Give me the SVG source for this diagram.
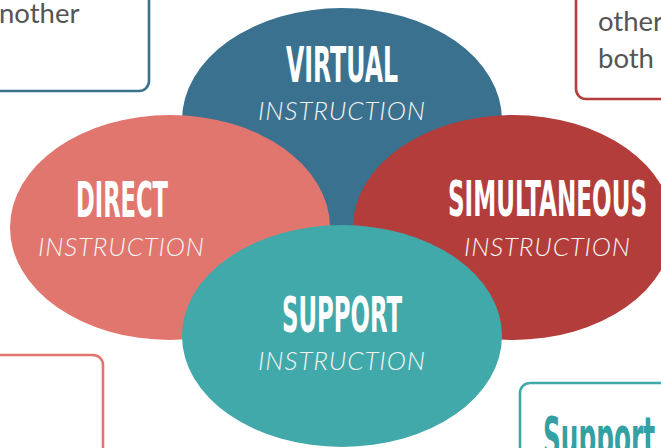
<svg xmlns="http://www.w3.org/2000/svg" width="661" height="448" viewBox="0 0 661 448">
<style>
.title{font-family:"Liberation Sans Narrow","DejaVu Sans Condensed","Liberation Sans",sans-serif;font-weight:bold;font-size:49px;fill:#fff;}
.sub{font-family:Lato,"Open Sans",sans-serif;font-weight:300;font-style:italic;font-size:26px;fill:#f4f4f4;}
.box{fill:#fff;stroke-width:2.6;}
.btxt{font-family:Lato,"Open Sans",sans-serif;font-size:27.5px;fill:#555;}
</style>
<rect width="661" height="448" fill="#fff"/>
<g id="box-top-left">
<rect class="box" x="-20" y="-20" width="169" height="111" rx="10" stroke="#3a718f"/>
<text class="btxt" x="-1" y="23">nother</text>
</g>
<g id="box-top-right">
<rect class="box" x="576" y="-20" width="110" height="119" rx="10" stroke="#b33d3a"/>
<text class="btxt" x="598" y="31">other</text>
<text class="btxt" x="598" y="68">both</text>
</g>
<g id="box-bottom-left">
<rect class="box" x="-20" y="355" width="123" height="120" rx="10" stroke="#e1766e"/>
</g>
<g id="box-bottom-right">
<rect class="box" x="520" y="383" width="160" height="90" rx="10" stroke="#42a9ab"/>
<text x="543" y="456" textLength="112" lengthAdjust="spacingAndGlyphs" style="font-family:'Liberation Sans Narrow','DejaVu Sans Condensed','Liberation Sans',sans-serif;font-weight:bold;font-size:56px;fill:#33a1a3">Support</text>
</g>
<g id="connectors"></g>
<g id="virtual">
<ellipse cx="342" cy="120" rx="160" ry="112" fill="#3a718f"/>
<text class="title" x="286" y="82" textLength="112" lengthAdjust="spacingAndGlyphs">VIRTUAL</text>
<text class="sub" x="258" y="120" textLength="167" lengthAdjust="spacing">INSTRUCTION</text>
</g>
<g id="direct">
<ellipse cx="170" cy="227.5" rx="160" ry="112.5" fill="#e1766e"/>
<text class="title" x="76" y="217" textLength="92" lengthAdjust="spacingAndGlyphs">DIRECT</text>
<text class="sub" x="38" y="256" textLength="166" lengthAdjust="spacing">INSTRUCTION</text>
</g>
<g id="simultaneous">
<ellipse cx="513" cy="227.5" rx="160" ry="112.5" fill="#b33d3a"/>
<text class="title" x="448" y="216" textLength="199" lengthAdjust="spacingAndGlyphs">SIMULTANEOUS</text>
<text class="sub" x="464" y="256" textLength="166" lengthAdjust="spacing">INSTRUCTION</text>
</g>
<g id="support">
<ellipse cx="342" cy="336" rx="160" ry="111" fill="#42a9ab"/>
<text class="title" x="282" y="332" textLength="120" lengthAdjust="spacingAndGlyphs">SUPPORT</text>
<text class="sub" x="258" y="370" textLength="167" lengthAdjust="spacing">INSTRUCTION</text>
</g>
</svg>
